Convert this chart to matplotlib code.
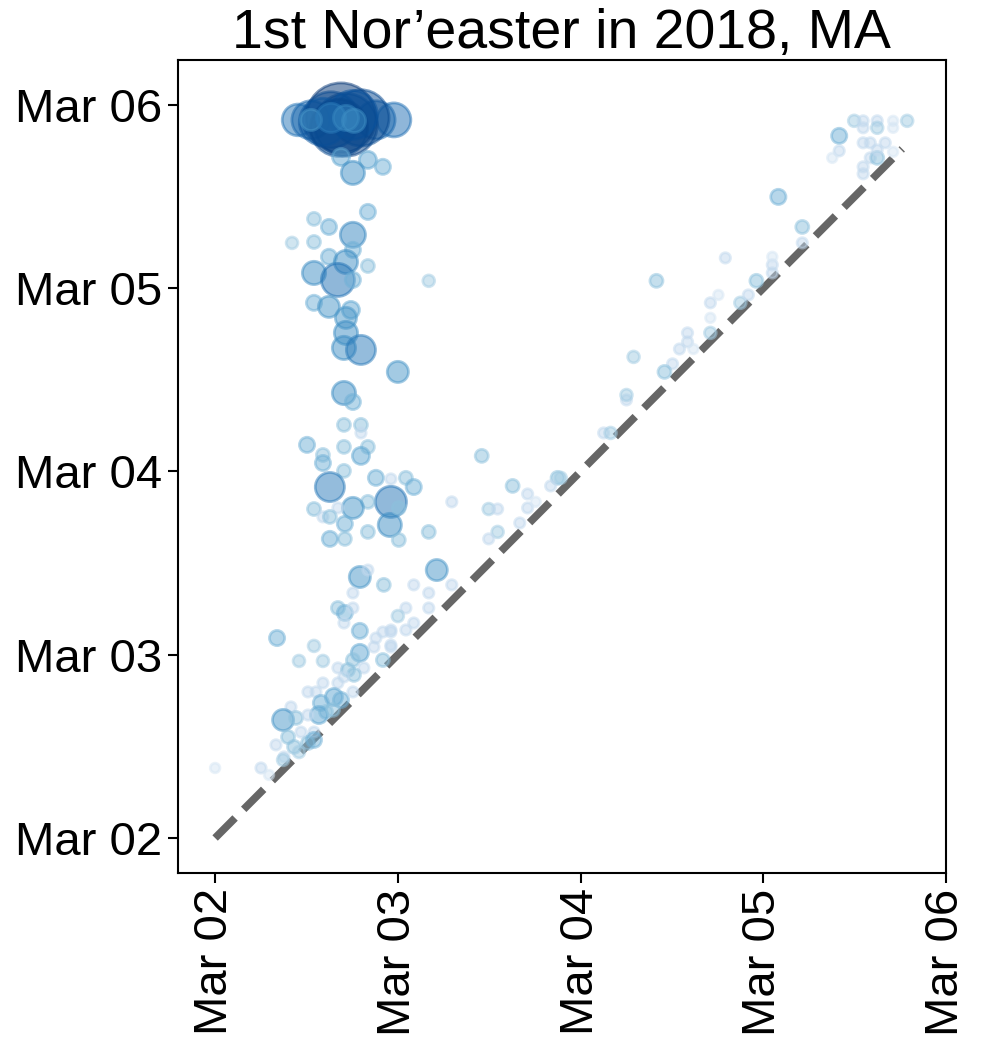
import numpy as np
import matplotlib
matplotlib.use('Agg')
import matplotlib.pyplot as plt
import matplotlib.dates as mdates
from matplotlib.colors import LogNorm

plt.rcParams['font.family'] = ['Liberation Sans', 'DejaVu Sans']

start = np.datetime64('2018-03-02T00:00')

# time offsets in days after Mar 02 00:00 (x = first, y = second) and counts
x_days = [
    0.454, 0.978, 0.525, 0.880, 0.689, 0.716, 0.634, 0.798, 0.590, 0.754, 0.678,
    0.525, 0.634, 0.716, 0.760,
    0.689, 0.836, 0.918, 0.754,
    0.836, 0.541, 0.623, 0.754, 0.421, 0.541, 0.754, 0.623, 0.716, 0.836, 0.541,
    0.672, 0.754, 1.169, 0.541, 0.623, 0.743, 0.716, 0.716, 0.705, 0.798, 1.000,
    0.705, 0.754, 0.705, 0.798, 0.798, 0.503, 0.705, 0.836,
    0.590, 0.590, 0.798, 0.705, 0.628, 0.880, 0.962, 1.044, 1.087, 0.962, 0.836,
    0.754, 0.672, 0.541, 0.590, 0.628, 0.710, 0.956, 1.005, 0.836, 0.710, 0.628,
    1.005, 1.169, 1.295, 1.459, 0.792, 0.836, 1.213, 0.923, 1.087, 1.169, 1.295,
    0.754, 0.672, 0.710, 0.754, 1.044, 1.169, 1.000,
    0.705, 0.339, 0.792, 0.541, 0.459, 0.590, 0.792, 0.918, 0.962, 0.880, 0.869,
    0.962, 0.754, 0.672, 0.727, 0.814, 0.918, 0.760, 0.705, 0.590, 0.672, 0.508,
    0.552, 0.650, 0.689, 0.579, 0.754, 0.415, 0.607, 0.568, 0.372, 0.443, 0.508,
    0.645, 0.541, 0.470, 0.399, 0.333, 0.432, 0.508, 0.541, 0.377, 0.459, 0.000,
    0.251, 0.295, 0.372,
    1.628, 1.710, 1.497, 1.546, 1.710, 1.754, 1.874, 1.836, 1.667, 1.546, 1.497,
    1.044, 0.962, 1.087, 0.962, 2.126, 2.164, 2.251,
    2.710, 2.874, 2.710, 2.585, 2.585, 2.710, 2.541, 2.617, 2.290, 2.503, 2.459,
    2.251, 1.891, 2.415, 2.754, 2.918, 2.792, 2.962, 3.049, 3.049, 3.049, 3.213,
    3.213, 3.082, 3.497, 3.546, 3.623, 3.710, 3.787, 3.415, 3.546, 3.623, 3.710,
    3.546, 3.585, 3.667, 3.415, 3.377, 3.585, 3.623, 3.623, 3.710, 3.546, 3.546,
]
y_days = [
    3.918, 3.918, 3.918, 3.918, 3.929, 3.891, 3.918, 3.929, 3.907, 3.945, 3.875,
    3.918, 3.929, 3.929, 3.913,
    3.716, 3.700, 3.662, 3.629,
    3.416, 3.378, 3.334, 3.291, 3.247, 3.252, 3.209, 3.171, 3.143, 3.121, 3.083,
    3.045, 3.045, 3.040, 2.920, 2.898, 2.881, 2.838, 2.756, 2.674, 2.663, 2.543,
    2.428, 2.379, 2.254, 2.254, 2.210, 2.145, 2.134, 2.134,
    2.090, 2.046, 2.085, 2.003, 1.915, 1.965, 1.959, 1.965, 1.915, 1.834, 1.834,
    1.801, 1.801, 1.795, 1.752, 1.752, 1.714, 1.708, 1.801, 1.670, 1.632, 1.632,
    1.626, 1.670, 1.834, 2.085, 1.424, 1.462, 1.462, 1.381, 1.381, 1.337, 1.381,
    1.337, 1.255, 1.228, 1.255, 1.255, 1.255, 1.211,
    1.173, 1.091, 1.130, 1.048, 0.966, 0.966, 1.010, 1.124, 1.124, 1.091, 1.042,
    1.042, 0.971, 0.928, 0.917, 0.928, 0.971, 0.890, 0.879, 0.846, 0.846, 0.797,
    0.797, 0.769, 0.753, 0.737, 0.797, 0.715, 0.688, 0.671, 0.644, 0.655, 0.671,
    0.699, 0.578, 0.578, 0.551, 0.508, 0.497, 0.518, 0.535, 0.442, 0.469, 0.382,
    0.382, 0.344, 0.426,
    1.921, 1.877, 1.795, 1.795, 1.801, 1.834, 1.965, 1.921, 1.719, 1.670, 1.632,
    1.135, 1.135, 1.173, 1.053, 2.210, 2.210, 2.390,
    2.920, 2.920, 2.838, 2.756, 2.707, 2.756, 2.668, 2.668, 2.625, 2.587, 2.543,
    2.417, 1.965, 3.040, 2.963, 2.963, 3.165, 3.040, 3.127, 3.083, 3.171, 3.334,
    3.247, 3.498, 3.913, 3.913, 3.913, 3.913, 3.913, 3.831, 3.875, 3.875, 3.875,
    3.793, 3.793, 3.793, 3.749, 3.711, 3.711, 3.711, 3.754, 3.744, 3.662, 3.624,
]
counts = [
    60, 70, 90, 90, 312, 250, 200, 200, 140, 150, 207,
    24, 50, 36, 30,
    14, 14, 10, 30,
    10, 6, 10, 36, 4, 6, 10, 10, 30, 6, 30,
    66, 10, 4, 10, 24, 14, 24, 30, 30, 50, 24,
    30, 10, 6, 6, 2, 10, 6, 6,
    6, 10, 14, 6, 50, 10, 2, 6, 10, 58, 6,
    24, 2, 6, 2, 6, 10, 30, 6, 6, 6, 10,
    6, 6, 2, 6, 24, 2, 24, 6, 2, 2, 2,
    2, 6, 10, 2, 2, 2, 4,
    2, 10, 10, 4, 4, 4, 14, 2, 2, 2, 2,
    2, 6, 2, 6, 2, 6, 6, 2, 2, 2, 2,
    2, 14, 10, 10, 2, 2, 6, 14, 24, 6, 2,
    6, 2, 2, 6, 2, 6, 6, 10, 2, 4, 1,
    2, 1, 4,
    6, 2, 4, 2, 2, 1, 6, 2, 2, 4, 2,
    2, 2, 2, 2, 2, 4, 2,
    2, 4, 1, 2, 2, 4, 2, 1, 4, 2, 6,
    4, 4, 6, 1, 2, 2, 6, 2, 2, 1, 6,
    2, 10, 4, 2, 2, 1, 4, 10, 2, 4, 1,
    2, 2, 2, 2, 1, 2, 6, 2, 1, 2, 2,
]
line_days = [0.0, 3.76]

base = mdates.date2num(start)
x = base + np.array(x_days)
y = base + np.array(y_days)
c = np.array(counts, dtype=float)

fig = plt.figure(figsize=(9.98, 10.45), dpi=100)
ax = fig.add_axes([0.178, 0.1646, 0.770, 0.778])

ax.plot(base + np.array(line_days), base + np.array(line_days),
        ls='--', lw=5.5, color='#666666', zorder=1)
ax.scatter(x, y, s=40 + 8 * c, c=c, cmap='Blues',
           norm=LogNorm(vmin=0.3, vmax=400), alpha=0.5, linewidths=2, zorder=2)

ax.set_xlim(base - 0.205, base + 4.0)
ax.set_ylim(base - 0.191, base + 4.245)

for axis in (ax.xaxis, ax.yaxis):
    axis.set_major_locator(mdates.DayLocator())
    axis.set_major_formatter(mdates.DateFormatter('%b %d'))

ax.tick_params(labelsize=34, length=7, width=1.5, pad=4)
plt.setp(ax.get_xticklabels(), rotation=90)
for sp in ax.spines.values():
    sp.set_linewidth(1.5)

ax.set_title('1st Nor\u2019easter in 2018, MA', fontsize=40, pad=7)

fig.savefig('out.png', dpi=100)
